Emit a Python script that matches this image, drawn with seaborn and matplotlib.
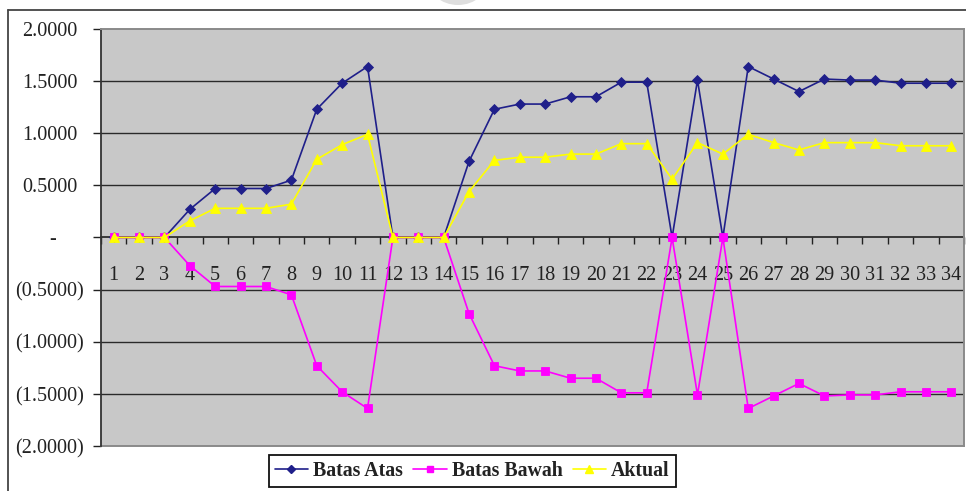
import numpy as np
import pandas as pd
import seaborn as sns
import matplotlib
matplotlib.use("Agg")
import matplotlib.pyplot as plt
from matplotlib.lines import Line2D
from matplotlib.patches import Ellipse
from matplotlib.transforms import ScaledTranslation

# Control chart data: upper limit, lower limit and actual values per period
periods = list(range(1, 35))
batas_atas = [0.00, 0.00, 0.00, 0.27, 0.47, 0.47, 0.47, 0.55, 1.23, 1.48,
              1.64, 0.00, 0.00, 0.00, 0.73, 1.23, 1.28, 1.28, 1.35, 1.35,
              1.49, 1.49, 0.00, 1.51, 0.00, 1.64, 1.52, 1.40, 1.52, 1.51,
              1.51, 1.48, 1.48, 1.48]
batas_bawah = [0.00, 0.00, 0.00, -0.27, -0.47, -0.47, -0.47, -0.55, -1.23, -1.48,
               -1.64, 0.00, 0.00, 0.00, -0.73, -1.23, -1.28, -1.28, -1.35, -1.35,
               -1.49, -1.49, 0.00, -1.51, 0.00, -1.64, -1.52, -1.40, -1.52, -1.51,
               -1.51, -1.48, -1.48, -1.48]
aktual = [0.00, 0.00, 0.00, 0.16, 0.28, 0.28, 0.28, 0.32, 0.75, 0.89,
          0.99, 0.00, 0.00, 0.00, 0.44, 0.74, 0.77, 0.77, 0.80, 0.80,
          0.90, 0.90, 0.56, 0.91, 0.80, 0.99, 0.91, 0.84, 0.91, 0.91,
          0.91, 0.88, 0.88, 0.88]

series_names = ["Batas Atas", "Batas Bawah", "Aktual"]
y_ticks = [-2.0, -1.5, -1.0, -0.5, 0.0, 0.5, 1.0, 1.5, 2.0]
y_tick_labels = ["(2.0000)", "(1.5000)", "(1.0000)", "(0.5000)", "-",
                 "0.5000", "1.0000", "1.5000", "2.0000"]

df = pd.DataFrame({
    "Periode": periods * 3,
    "Nilai": batas_atas + batas_bawah + aktual,
    "Seri": np.repeat(series_names, len(periods)),
})

sns.set_theme(style="white")
plt.rcParams["font.family"] = ["Liberation Serif", "DejaVu Serif"]

W, H = 966, 491
fig = plt.figure(figsize=(W / 100, H / 100), dpi=100)
fig.patch.set_facecolor("white")

# plot area in pixel coordinates
left, right, top, bottom = 101, 964, 29, 446
ax = fig.add_axes([left / W, 1 - bottom / H, (right - left) / W, (bottom - top) / H])
ax.set_facecolor("#c8c8c8")

styles = {
    "Batas Atas": dict(color="#1f1f8a", marker="D", ms=4.7),
    "Batas Bawah": dict(color="#ff00ff", marker="s", ms=5.6),
    "Aktual": dict(color="#ffff00", marker="^", ms=6.8),
}
for name in series_names:
    st = styles[name]
    sns.lineplot(data=df[df["Seri"] == name], x="Periode", y="Nilai", ax=ax,
                 color=st["color"], marker=st["marker"], markersize=st["ms"],
                 markeredgecolor=st["color"], markeredgewidth=0.6,
                 linewidth=1.2, legend=False, zorder=3)

ax.set_xlim(0.5, 34.5)
ax.set_ylim(-2, 2)
ax.set_xlabel("")
ax.set_ylabel("")

# horizontal gridlines
for y in y_ticks:
    if y not in (-2.0, 0.0, 2.0):
        ax.axhline(y, color="#2a2a2a", linewidth=1.0, zorder=1)

# frame of the plot area
for s in ("top", "right"):
    ax.spines[s].set_color("#8a8a8a")
    ax.spines[s].set_linewidth(1.4)
ax.spines["left"].set_color("#333333")
ax.spines["left"].set_linewidth(1.3)
ax.plot([0, 1], [0, 0], transform=ax.transAxes, color="#8a8a8a",
        linewidth=1.4, clip_on=False, zorder=2)

# category axis crossing at zero
ax.spines["bottom"].set_position(("data", 0))
ax.spines["bottom"].set_color("#222222")
ax.spines["bottom"].set_linewidth(1.2)
ax.spines["bottom"].set_zorder(2)

ax.set_xticks(periods)
ax.set_xticklabels([str(p) for p in periods])
ax.set_xticks(np.arange(0.5, 35.0, 1.0), minor=True)
ax.tick_params(axis="x", which="major", length=0, pad=20.5,
               labelsize=14.6, labelcolor="#222222")
ax.tick_params(axis="x", which="minor", direction="out", length=5,
               width=1.0, color="#222222", bottom=True)

ax.set_yticks(y_ticks)
ax.set_yticklabels(y_tick_labels)
ax.tick_params(axis="y", which="major", direction="out", length=6,
               width=1.0, color="#222222", pad=6.5, left=True,
               labelsize=14.6, labelcolor="#222222")

# accounting style alignment of the value labels
for lab in ax.get_yticklabels():
    txt = lab.get_text()
    if txt == "-":
        dx = -28
    elif txt.startswith("("):
        dx = 0
    else:
        dx = -6
    lab.set_transform(lab.get_transform() + ScaledTranslation(dx / 100, 0, fig.dpi_scale_trans))

# legend below the plot area
handles = [
    Line2D([], [], color=styles[n]["color"], marker=styles[n]["marker"],
           markersize=styles[n]["ms"] * 0.8, markeredgecolor=styles[n]["color"],
           linewidth=1.2)
    for n in series_names
]
cx = (266.7 + 677.7) / 2 / W
cy = 1 - (453.3 + 489.3) / 2 / H
leg = fig.legend(handles, series_names, loc="center", bbox_to_anchor=(cx, cy),
                 ncol=3, frameon=True, fancybox=False, framealpha=1,
                 edgecolor="#111111", handlelength=1.7, handletextpad=0.25,
                 columnspacing=0.5, borderpad=0.3,
                 prop={"family": "Liberation Serif", "weight": "bold", "size": 14.3})
leg.get_frame().set_linewidth(1.3)
for t in leg.get_texts():
    t.set_color("#222222")

# outer chart border (top and left edges)
fig.add_artist(Line2D([8 / W, 8 / W], [0, 1 - 10 / H], transform=fig.transFigure,
                      color="#444444", linewidth=1.3))
fig.add_artist(Line2D([8 / W, 1], [1 - 10 / H, 1 - 10 / H], transform=fig.transFigure,
                      color="#444444", linewidth=1.3))
# faint logo shape at the top edge
fig.add_artist(Ellipse((458 / W, 1 + 22 / H), 62 / W, 54 / H, transform=fig.transFigure,
                       facecolor="#dedede", edgecolor="none"))

fig.savefig("out.png", dpi=100)
